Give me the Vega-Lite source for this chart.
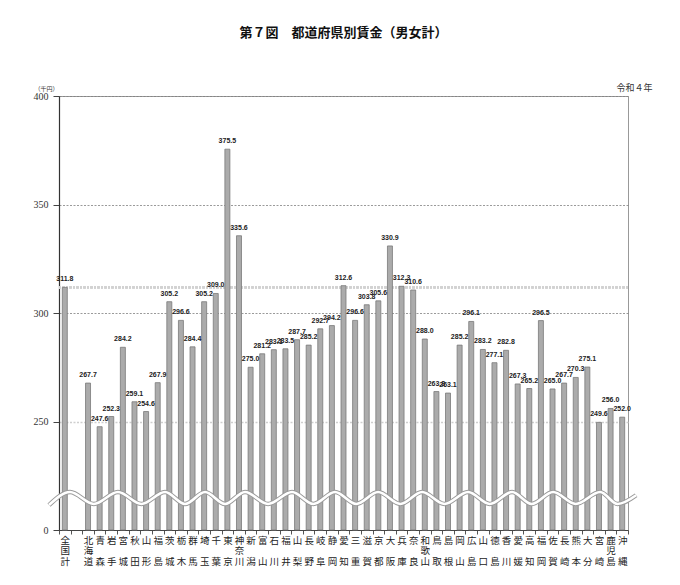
{
  "$schema": "https://vega.github.io/schema/vega-lite/v6.json",
  "autosize": "none",
  "width": 569,
  "height": 434,
  "padding": {"left": 59, "top": 96, "right": 52, "bottom": 55},
  "background": "white",
  "view": {"stroke": "#999", "strokeWidth": 1},
  "title": {
    "text": "第７図　都道府県別賃金（男女計）",
    "font": "Noto Sans CJK JP",
    "fontSize": 13,
    "fontWeight": "bold",
    "color": "#111",
    "anchor": "middle",
    "offset": 43
  },
  "datasets": {
    "wage": [
      {"pref": "全国計", "v": 311.8},
      {"pref": "北海道", "v": 267.7},
      {"pref": "青森", "v": 247.6},
      {"pref": "岩手", "v": 252.3},
      {"pref": "宮城", "v": 284.2},
      {"pref": "秋田", "v": 259.1},
      {"pref": "山形", "v": 254.6},
      {"pref": "福島", "v": 267.9},
      {"pref": "茨城", "v": 305.2},
      {"pref": "栃木", "v": 296.6},
      {"pref": "群馬", "v": 284.4},
      {"pref": "埼玉", "v": 305.2},
      {"pref": "千葉", "v": 309.0},
      {"pref": "東京", "v": 375.5},
      {"pref": "神奈川", "v": 335.6},
      {"pref": "新潟", "v": 275.0},
      {"pref": "富山", "v": 281.2},
      {"pref": "石川", "v": 283.1},
      {"pref": "福井", "v": 283.5},
      {"pref": "山梨", "v": 287.7},
      {"pref": "長野", "v": 285.2},
      {"pref": "岐阜", "v": 292.7},
      {"pref": "静岡", "v": 294.2},
      {"pref": "愛知", "v": 312.6},
      {"pref": "三重", "v": 296.6},
      {"pref": "滋賀", "v": 303.8},
      {"pref": "京都", "v": 305.6},
      {"pref": "大阪", "v": 330.9},
      {"pref": "兵庫", "v": 312.3},
      {"pref": "奈良", "v": 310.6},
      {"pref": "和歌山", "v": 288.0},
      {"pref": "鳥取", "v": 263.8},
      {"pref": "島根", "v": 263.1},
      {"pref": "岡山", "v": 285.2},
      {"pref": "広島", "v": 296.1},
      {"pref": "山口", "v": 283.2},
      {"pref": "徳島", "v": 277.1},
      {"pref": "香川", "v": 282.8},
      {"pref": "愛媛", "v": 267.3},
      {"pref": "高知", "v": 265.2},
      {"pref": "福岡", "v": 296.5},
      {"pref": "佐賀", "v": 265.0},
      {"pref": "長崎", "v": 267.7},
      {"pref": "熊本", "v": 270.3},
      {"pref": "大分", "v": 275.1},
      {"pref": "宮崎", "v": 249.6},
      {"pref": "鹿児島", "v": 256.0},
      {"pref": "沖縄", "v": 252.0}
    ],
    "wave": [
      {"wx": -0.86, "wy": 211.5},
      {"wx": 0.95, "wy": 217.5},
      {"wx": 3.0, "wy": 212},
      {"wx": 5.08, "wy": 217.5},
      {"wx": 7.1, "wy": 212},
      {"wx": 9.13, "wy": 217.5},
      {"wx": 10.85, "wy": 212},
      {"wx": 12.58, "wy": 217.5},
      {"wx": 14.3, "wy": 212},
      {"wx": 16.02, "wy": 217.5},
      {"wx": 18.0, "wy": 212},
      {"wx": 20.07, "wy": 217.5},
      {"wx": 21.9, "wy": 212},
      {"wx": 23.77, "wy": 217.5},
      {"wx": 25.6, "wy": 212},
      {"wx": 27.48, "wy": 217.5},
      {"wx": 29.4, "wy": 212},
      {"wx": 31.27, "wy": 217.5},
      {"wx": 33.2, "wy": 212},
      {"wx": 35.23, "wy": 217.5},
      {"wx": 37.1, "wy": 212},
      {"wx": 39.02, "wy": 217.5},
      {"wx": 40.7, "wy": 212},
      {"wx": 42.55, "wy": 217.5},
      {"wx": 44.5, "wy": 212},
      {"wx": 46.6, "wy": 217.5},
      {"wx": 48.1, "wy": 212},
      {"wx": 49.7, "wy": 216}
    ]
  },
  "resolve": {"scale": {"x": "independent"}, "axis": {"x": "independent"}},
  "layer": [
    {
      "data": {"name": "wage"},
      "encoding": {
        "x": {
          "field": "pref",
          "type": "nominal",
          "scale": {
            "domain": ["全国計", " ", "北海道", "青森", "岩手", "宮城", "秋田", "山形", "福島", "茨城", "栃木", "群馬", "埼玉", "千葉", "東京", "神奈川", "新潟", "富山", "石川", "福井", "山梨", "長野", "岐阜", "静岡", "愛知", "三重", "滋賀", "京都", "大阪", "兵庫", "奈良", "和歌山", "鳥取", "島根", "岡山", "広島", "山口", "徳島", "香川", "愛媛", "高知", "福岡", "佐賀", "長崎", "熊本", "大分", "宮崎", "鹿児島", "沖縄"],
            "paddingInner": 0,
            "paddingOuter": 0
          },
          "axis": {
            "title": null,
            "labelAngle": 0,
            "labelExpr": "length(datum.label) == 3 ? [substring(datum.label, 0, 1), substring(datum.label, 1, 2), substring(datum.label, 2, 3)] : (length(datum.label) == 2 ? [substring(datum.label, 0, 1), '\u200b', substring(datum.label, 1, 2)] : datum.label)",
            "labelFont": "Noto Sans CJK JP",
            "labelFontSize": 9.5,
            "labelLineHeight": 10.5,
            "labelColor": "#222",
            "labelBaseline": "top",
            "labelPadding": 1,
            "labelOverlap": false,
            "tickBand": "extent",
            "tickSize": 4,
            "tickColor": "#555",
            "domainColor": "#444",
            "grid": false
          }
        },
        "y": {
          "field": "v",
          "type": "quantitative",
          "scale": {"domain": [200, 400], "nice": false, "zero": false},
          "axis": {
            "values": [200, 250, 300, 350, 400],
            "labelExpr": "datum.value == 200 ? '0' : datum.label",
            "labelFont": "Liberation Serif",
            "labelFontSize": 10,
            "labelColor": "#333",
            "labelPadding": 5,
            "tickSize": 6,
            "tickColor": "#444",
            "domainColor": "#333",
            "domainWidth": 1.2,
            "grid": true,
            "gridColor": {"condition": {"test": "datum.value == 250", "value": "#cfcfcf"}, "value": "#808080"},
            "gridWidth": {"condition": {"test": "datum.value == 250", "value": 1.6}, "value": 0.8},
            "gridDash": [2, 1.5],
            "title": "（千円）",
            "titleFont": "Noto Sans CJK JP",
            "titleFontSize": 6,
            "titleFontWeight": "normal",
            "titleColor": "#333",
            "titleAngle": 0,
            "titleAlign": "center",
            "titleBaseline": "bottom",
            "titleX": -13,
            "titleY": -5
          }
        }
      },
      "layer": [
        {
          "mark": {"type": "rule", "color": "#d2d2d2", "strokeWidth": 1.6, "strokeDash": [2, 1.5]},
          "encoding": {"x": {"value": 0}, "x2": {"value": 569}, "y": {"datum": 311.8}}
        },
        {
          "mark": {"type": "bar", "width": 5, "fill": "#ababab", "stroke": "#7a7a7a", "strokeWidth": 0.8},
          "encoding": {"y2": {"datum": 200}}
        },
        {
          "mark": {"type": "text", "dy": -5, "font": "Liberation Sans", "fontSize": 7, "fontWeight": "bold", "color": "#222", "baseline": "bottom"},
          "encoding": {"text": {"field": "v", "type": "quantitative", "format": ".1f"}}
        }
      ]
    },
    {
      "data": {"name": "wave"},
      "encoding": {
        "x": {
          "field": "wx",
          "type": "quantitative",
          "scale": {"domain": [0, 49], "nice": false, "zero": false},
          "axis": {
            "orient": "top",
            "domain": false,
            "ticks": false,
            "labels": false,
            "grid": false,
            "title": "令和４年",
            "titleFont": "Noto Sans CJK JP",
            "titleFontSize": 9,
            "titleFontWeight": "normal",
            "titleColor": "#333",
            "titleAlign": "right",
            "titleAnchor": null,
            "titleBaseline": "bottom",
            "titleX": 593,
            "titleY": -4
          }
        },
        "y": {"field": "wy", "type": "quantitative"}
      },
      "layer": [
        {"mark": {"type": "line", "interpolate": "monotone", "color": "#9a9a9a", "strokeWidth": 4.5}},
        {"mark": {"type": "line", "interpolate": "monotone", "color": "#ffffff", "strokeWidth": 2.6}}
      ]
    }
  ]
}
